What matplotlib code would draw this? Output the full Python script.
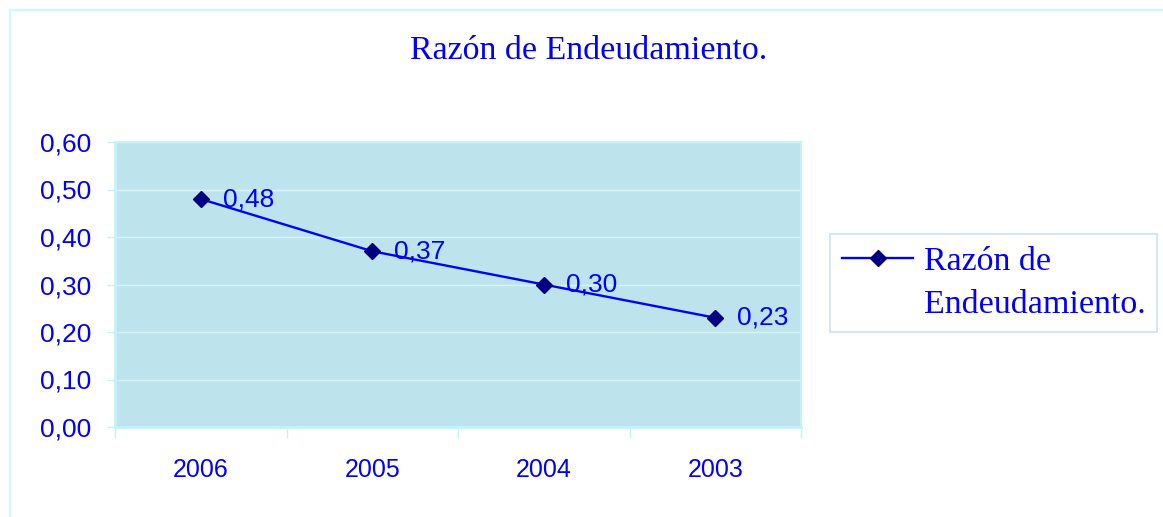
import matplotlib.pyplot as plt
from matplotlib.lines import Line2D
from matplotlib.patches import Rectangle

# -----------------------------
# data
# -----------------------------
years = ["2006", "2005", "2004", "2003"]
ratio = [0.48, 0.37, 0.30, 0.23]
ratio_labels = ["0,48", "0,37", "0,30", "0,23"]
yticks = [0.0, 0.1, 0.2, 0.3, 0.4, 0.5, 0.6]
ytick_labels = ["0,00", "0,10", "0,20", "0,30", "0,40", "0,50", "0,60"]
series_name = ["Razón de", "Endeudamiento."]
title = "Razón de Endeudamiento."

# -----------------------------
# style
# -----------------------------
blue = "#0000ff"
navy = "#000080"
edge = "#c6f2f6"
serif = ["Liberation Serif", "DejaVu Serif"]
sans = ["Liberation Sans", "DejaVu Sans"]

fig = plt.figure(figsize=(11.63, 5.17), dpi=100)
fig.patches.append(Rectangle((10 / 1163, -0.01), 1.1, (517 - 10) / 517 + 0.01,
                             transform=fig.transFigure, fill=False,
                             edgecolor="#ccfbfb", linewidth=1.5))

ax = fig.add_axes([115 / 1163, 90 / 517, 686 / 1163, 285 / 517])
ax.set_facecolor("#bde4ec")

x = list(range(len(years)))
line, = ax.plot(x, ratio, color=blue, linewidth=1.7, marker="D", markersize=8,
                markerfacecolor=navy, markeredgecolor=navy, zorder=3)

for xi, yi, lab in zip(x, ratio, ratio_labels):
    ax.annotate(lab, (xi, yi), xytext=(16, 0), textcoords="offset points",
                ha="left", va="center", color=blue, fontsize=19, family=sans)

ax.set_xlim(-0.5, len(years) - 0.5)
ax.set_ylim(0, 0.6)
ax.set_yticks(yticks)
ax.set_yticklabels(ytick_labels, family=sans)
ax.grid(axis="y", color="#d8f4f7", linewidth=1)
ax.set_axisbelow(True)

# Excel style: ticks between categories, labels centred
ax.set_xticks([i - 0.5 for i in range(len(years) + 1)])
ax.set_xticklabels([])
ax.set_xticks(x, minor=True)
ax.set_xticklabels(years, minor=True, family=sans)
ax.tick_params(axis="x", which="minor", length=0, pad=22, labelsize=18, labelcolor=blue)
ax.tick_params(axis="x", which="major", length=8, color=edge, width=1)
ax.tick_params(axis="y", length=6, color=edge, width=1, pad=11, labelsize=19, labelcolor=blue)

for s in ax.spines.values():
    s.set_color(edge)
    s.set_linewidth(1.5)
ax.spines["left"].set_linewidth(2)
ax.spines["bottom"].set_linewidth(2)

fig.text(589 / 1163, 1 - 51 / 517, title, ha="center", va="center",
         color=blue, fontsize=24.5, family=serif)

# legend: marker beside the first line of the wrapped name
blank = Line2D([], [], linestyle="none", marker="none")
leg = fig.legend([line, blank], series_name, loc="center left",
                 bbox_to_anchor=(830 / 1163, 1 - 283 / 517), borderaxespad=0,
                 frameon=True, fancybox=False,
                 prop={"family": serif, "size": 24.5}, handlelength=2.1,
                 handletextpad=0.3, borderpad=0.35, labelspacing=0.35,
                 labelcolor=blue)
leg.get_frame().set_edgecolor("#c0d8f4")
leg.get_frame().set_linewidth(1.2)

plt.savefig("out.png", dpi=100)
